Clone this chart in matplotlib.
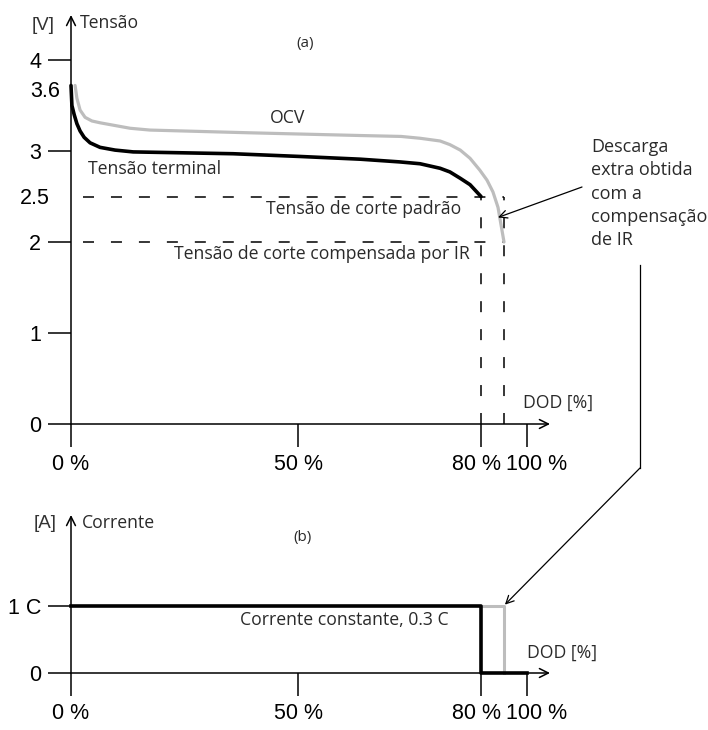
"""Discharge curve with IR-compensated cut-off voltage (schematic)."""

import matplotlib

matplotlib.use("Agg")
import matplotlib.pyplot as plt
import numpy as np
from matplotlib.lines import Line2D
from matplotlib.transforms import ScaledTranslation

# --- data -----------------------------------------------------------------
DOD_OCV = [0.9, 1.3, 2.0, 3.1, 4.6, 6.4, 9.7, 13.0, 17.4, 39.4, 60.3, 66.9, 70.0, 73.3,
           74.9, 76.6, 78.2, 79.8, 82.6, 85.2, 87.4, 90.0]
V_OCV = [3.72, 3.58, 3.45, 3.37, 3.33, 3.31, 3.28, 3.25, 3.23, 3.20, 3.17, 3.16, 3.14, 3.11,
         3.07, 3.01, 2.92, 2.79, 2.68, 2.55, 2.38, 2.00]

DOD_TERM = [0.0, 0.2, 0.7, 1.3, 2.0, 2.9, 4.2, 6.4, 9.7, 13.7, 35.7, 50.3, 60.2, 66.7,
            70.0, 73.3, 74.9, 76.6, 78.2, 80.0]
V_TERM = [3.72, 3.50, 3.40, 3.30, 3.22, 3.15, 3.09, 3.04, 3.01, 2.99, 2.97, 2.94, 2.91, 2.88,
          2.86, 2.81, 2.77, 2.70, 2.63, 2.50]

V_CUT_STD = 2.5
V_CUT_IR = 2.0
DOD_CUT_STD = 80
DOD_CUT_IR = 90
DOD_DASH_START = 2.6

DOD_I_TERM = [0, 80, 80, 100]
I_TERM = [1, 1, 0, 0]
DOD_I_EXT = [80, 90, 90]
I_EXT = [1, 1, 0]

X_TICKS = [0, 50, 80, 100]
X_LABELS = ["0 %", "50 %", "80 %", "100 %"]
V_TICKS = [0, 1, 2, 3, 4]
V_LABELS = ["0", "1", "2", "3", "4"]
V_MINOR = [2.5, 3.6]
V_MINOR_LABELS = ["2.5", "3.6"]
I_TICKS = [0, 1]
I_LABELS = ["0", "1 C"]

# schematic x axis: the original drawing is not linear in DOD
DOD_KNOTS = [0, 50, 80, 100, 120]
POS_KNOTS = [0, 227, 410, 456, 502]

W, H = 708, 730
GREY = "#bdbdbd"
TXT = "#2a2a2a"
SANS = ["Open Sans", "DejaVu Sans"]
ARIAL = ["Liberation Sans", "DejaVu Sans"]
TICK_SIZE = 15.5


def fx(px):
    return px / W


def fy(py):
    return 1 - py / H


def _forward(x):
    return np.interp(x, DOD_KNOTS, POS_KNOTS)


def _inverse(p):
    return np.interp(p, POS_KNOTS, DOD_KNOTS)


def _shift(artist, dx, dy):
    fig = artist.figure
    artist.set_transform(artist.get_transform() + ScaledTranslation(dx / 100, dy / 100, fig.dpi_scale_trans))


def _setup_axis(ax, ymax):
    ax.set_xscale("function", functions=(_forward, _inverse))
    ax.set_xlim(0, _inverse(479))
    ax.set_ylim(0, ymax)
    for s in ax.spines.values():
        s.set_visible(False)
    ax.patch.set_alpha(0)
    arrow = dict(arrowstyle="->", lw=1.1, color="black", shrinkA=0, shrinkB=0, mutation_scale=16)
    ax.annotate("", xy=(1, 0), xytext=(0, 0), xycoords="axes fraction", arrowprops=arrow)
    ax.annotate("", xy=(0, 1), xytext=(0, 0), xycoords="axes fraction", arrowprops=arrow)
    ax.set_xticks(X_TICKS, labels=X_LABELS)
    ax.tick_params(which="major", direction="out", length=16.5, width=1.1, pad=5, labelsize=TICK_SIZE)
    for lab in ax.get_xticklabels() + ax.get_yticklabels():
        lab.set_fontfamily(ARIAL)
    labels = ax.get_xticklabels()
    _shift(labels[2], -4, 0)
    _shift(labels[3], 10, 0)


fig = plt.figure(figsize=(W / 100, H / 100), dpi=100)

# --- (a) voltage -----------------------------------------------------------
ax = fig.add_axes([fx(71), (H - 424) / H, 479 / W, 409 / H])
ax.set_yticks(V_TICKS, labels=V_LABELS)
ax.set_yticks(V_MINOR, labels=V_MINOR_LABELS, minor=True)
ax.tick_params(which="minor", length=0, labelsize=TICK_SIZE)
_setup_axis(ax, 409 / 91)
minor = ax.yaxis.get_minor_ticks()
minor[0].set_pad(15)
minor[1].set_pad(8)
for lab in ax.get_yticklabels(minor=True):
    lab.set_fontfamily(ARIAL)
_shift(ax.get_yticklabels(minor=True)[1], 0, 7)

dash = (0, (7.2, 11.1))
for v in (V_CUT_STD, V_CUT_IR):
    ax.plot([DOD_DASH_START, DOD_CUT_IR], [v, v], color="black", lw=1.1, ls=dash)
for d in (DOD_CUT_STD, DOD_CUT_IR):
    ax.plot([d, d], [0, V_CUT_STD], color="black", lw=1.1, ls=dash)

ax.plot(DOD_OCV, V_OCV, color=GREY, lw=2.3, solid_capstyle="round", solid_joinstyle="round", clip_on=False)
ax.plot(DOD_TERM, V_TERM, color="black", lw=2.6, solid_capstyle="round", solid_joinstyle="round", clip_on=False)

ax.annotate("", xy=(87.4, 2.27), xytext=(fx(582), fy(187)), textcoords="figure fraction",
            arrowprops=dict(arrowstyle="->", lw=0.9, color="black", shrinkA=0, shrinkB=0, mutation_scale=14))

# --- (b) current -----------------------------------------------------------
bx = fig.add_axes([fx(71), 57 / H, 479 / W, 158 / H])
bx.set_yticks(I_TICKS, labels=I_LABELS)
_setup_axis(bx, 158 / 67)
bx.plot(DOD_I_EXT, I_EXT, color=GREY, lw=2.2, clip_on=False)
bx.plot(DOD_I_TERM, I_TERM, color="black", lw=2.6, clip_on=False)
bx.annotate("", xy=(90.4, 1.02), xytext=(fx(640), fy(468)), textcoords="figure fraction",
            arrowprops=dict(arrowstyle="->", lw=0.9, color="black", shrinkA=0, shrinkB=0, mutation_scale=14))
fig.add_artist(Line2D([fx(640), fx(640)], [fy(265), fy(468)], color="black", lw=0.9))


# --- texts -----------------------------------------------------------------
def label(px, py, s, size=12.7, ha="left", family=SANS, color=TXT, **kw):
    fig.text(fx(px), fy(py), s, ha=ha, va="center", fontsize=size, family=family, color=color, **kw)


label(55, 25, "[V]", size=13.5, ha="right", family=ARIAL, color="#333333")
label(80, 23, "Tensão")
label(305, 43, "(a)", size=11, ha="center")
label(288, 118, "OCV", ha="center")
label(88, 169, "Tensão terminal")
label(266, 209, "Tensão de corte padrão")
label(174, 254, "Tensão de corte compensada por IR")
label(523, 403, "DOD [%]", size=12.7)
fig.text(fx(591), fy(138), "Descarga\nextra obtida\ncom a\ncompensação\nde IR", ha="left", va="top",
         fontsize=13, family=SANS, color=TXT, linespacing=1.38)

label(57, 523, "[A]", size=13.5, ha="right", family=ARIAL, color="#333333")
label(82, 523, "Corrente")
label(303, 537, "(b)", size=11, ha="center")
label(240, 620, "Corrente constante, 0.3 C")
label(527, 653, "DOD [%]", size=12.7)

fig.savefig("out.png", dpi=100)
